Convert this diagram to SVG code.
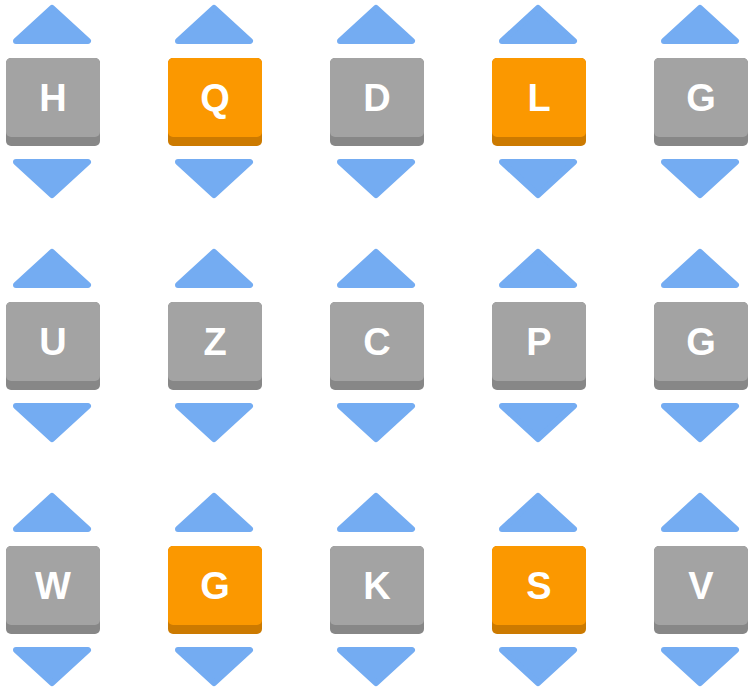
<svg xmlns="http://www.w3.org/2000/svg" width="752" height="688" viewBox="0 0 752 688">
<style>
.a{fill:#74acf2;stroke:#74acf2;stroke-width:6;stroke-linejoin:round}
.g .s{fill:#878787}.g .f{fill:#a3a3a3}
.o .s{fill:#cc7a00}.o .f{fill:#fb9800}
text{font-family:"Liberation Sans",Arial,sans-serif;font-weight:bold;font-size:38px;fill:#fff;text-anchor:middle}
</style>
<defs>
<g id="up"><polygon class="a" points="-36,-17 0,-50 36,-17"/></g>
<g id="dn"><polygon class="a" points="-36,104 0,137 36,104"/></g>
</defs>
<g id="connectors"></g>
<g id="n1" class="g" transform="translate(52,58)"><use href="#up"/><rect class="s" x="-46" y="0" width="94" height="88" rx="5"/><rect class="f" x="-46" y="0" width="94" height="79" rx="5"/><text x="1" y="53">H</text><use href="#dn"/></g>
<g id="n2" class="o" transform="translate(214,58)"><use href="#up"/><rect class="s" x="-46" y="0" width="94" height="88" rx="5"/><rect class="f" x="-46" y="0" width="94" height="79" rx="5"/><text x="1" y="53">Q</text><use href="#dn"/></g>
<g id="n3" class="g" transform="translate(376,58)"><use href="#up"/><rect class="s" x="-46" y="0" width="94" height="88" rx="5"/><rect class="f" x="-46" y="0" width="94" height="79" rx="5"/><text x="1" y="53">D</text><use href="#dn"/></g>
<g id="n4" class="o" transform="translate(538,58)"><use href="#up"/><rect class="s" x="-46" y="0" width="94" height="88" rx="5"/><rect class="f" x="-46" y="0" width="94" height="79" rx="5"/><text x="1" y="53">L</text><use href="#dn"/></g>
<g id="n5" class="g" transform="translate(700,58)"><use href="#up"/><rect class="s" x="-46" y="0" width="94" height="88" rx="5"/><rect class="f" x="-46" y="0" width="94" height="79" rx="5"/><text x="1" y="53">G</text><use href="#dn"/></g>
<g id="n6" class="g" transform="translate(52,302)"><use href="#up"/><rect class="s" x="-46" y="0" width="94" height="88" rx="5"/><rect class="f" x="-46" y="0" width="94" height="79" rx="5"/><text x="1" y="53">U</text><use href="#dn"/></g>
<g id="n7" class="g" transform="translate(214,302)"><use href="#up"/><rect class="s" x="-46" y="0" width="94" height="88" rx="5"/><rect class="f" x="-46" y="0" width="94" height="79" rx="5"/><text x="1" y="53">Z</text><use href="#dn"/></g>
<g id="n8" class="g" transform="translate(376,302)"><use href="#up"/><rect class="s" x="-46" y="0" width="94" height="88" rx="5"/><rect class="f" x="-46" y="0" width="94" height="79" rx="5"/><text x="1" y="53">C</text><use href="#dn"/></g>
<g id="n9" class="g" transform="translate(538,302)"><use href="#up"/><rect class="s" x="-46" y="0" width="94" height="88" rx="5"/><rect class="f" x="-46" y="0" width="94" height="79" rx="5"/><text x="1" y="53">P</text><use href="#dn"/></g>
<g id="n10" class="g" transform="translate(700,302)"><use href="#up"/><rect class="s" x="-46" y="0" width="94" height="88" rx="5"/><rect class="f" x="-46" y="0" width="94" height="79" rx="5"/><text x="1" y="53">G</text><use href="#dn"/></g>
<g id="n11" class="g" transform="translate(52,546)"><use href="#up"/><rect class="s" x="-46" y="0" width="94" height="88" rx="5"/><rect class="f" x="-46" y="0" width="94" height="79" rx="5"/><text x="1" y="53">W</text><use href="#dn"/></g>
<g id="n12" class="o" transform="translate(214,546)"><use href="#up"/><rect class="s" x="-46" y="0" width="94" height="88" rx="5"/><rect class="f" x="-46" y="0" width="94" height="79" rx="5"/><text x="1" y="53">G</text><use href="#dn"/></g>
<g id="n13" class="g" transform="translate(376,546)"><use href="#up"/><rect class="s" x="-46" y="0" width="94" height="88" rx="5"/><rect class="f" x="-46" y="0" width="94" height="79" rx="5"/><text x="1" y="53">K</text><use href="#dn"/></g>
<g id="n14" class="o" transform="translate(538,546)"><use href="#up"/><rect class="s" x="-46" y="0" width="94" height="88" rx="5"/><rect class="f" x="-46" y="0" width="94" height="79" rx="5"/><text x="1" y="53">S</text><use href="#dn"/></g>
<g id="n15" class="g" transform="translate(700,546)"><use href="#up"/><rect class="s" x="-46" y="0" width="94" height="88" rx="5"/><rect class="f" x="-46" y="0" width="94" height="79" rx="5"/><text x="1" y="53">V</text><use href="#dn"/></g>
</svg>
